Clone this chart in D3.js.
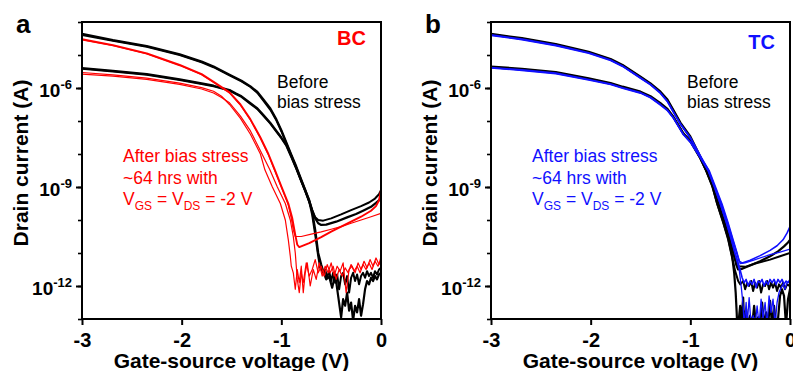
<!DOCTYPE html>
<html>
<head>
<meta charset="utf-8">
<script src="https://cdn.jsdelivr.net/npm/d3@7"></script>
<style>
  body { margin: 0; background: #fff; }
  svg { display: block; font-family: "Liberation Sans", Arial, sans-serif; }
</style>
</head>
<body>
<div id="chart"></div>
<script>
// ---- data: [gate-source voltage (V), log10 of drain current (A)] ----
const xTicks = [-3, -2, -1, 0];
const yMajorExp = [-12, -9, -6];
const yMinorExp = [-13, -12, -11, -10, -9, -8, -7, -6, -5, -4];

// panel a (BC), before stress
const bcBlkHiF = [[-3,-4.36],[-2.69,-4.55],[-2.35,-4.73],[-2.02,-4.98],[-1.8,-5.2],[-1.68,-5.35],[-1.52,-5.6],[-1.4,-5.78],[-1.31,-5.95],[-1.24,-6.12],[-1.18,-6.35],[-1.11,-6.62],[-1.05,-6.95],[-1,-7.28],[-0.95,-7.65],[-0.9,-8.02],[-0.85,-8.38],[-0.8,-8.78],[-0.76,-9.09],[-0.72,-9.42],[-0.69,-9.7],[-0.66,-9.95],[-0.63,-10.1],[-0.6,-10.15],[-0.55,-10.14],[-0.45,-10.05],[-0.34,-9.92],[-0.25,-9.82],[-0.18,-9.72],[-0.1,-9.6],[-0.05,-9.48],[0,-9.35]];
const bcBlkHiR = [[-3,-4.39],[-2.69,-4.57],[-2.35,-4.75],[-2.02,-5],[-1.8,-5.22],[-1.68,-5.37],[-1.52,-5.62],[-1.4,-5.8],[-1.31,-5.97],[-1.24,-6.15],[-1.18,-6.38],[-1.11,-6.66],[-1.05,-6.98],[-1,-7.31],[-0.95,-7.68],[-0.9,-8.05],[-0.85,-8.42],[-0.8,-8.82],[-0.76,-9.12],[-0.72,-9.45],[-0.69,-9.72],[-0.66,-9.92],[-0.63,-10],[-0.58,-10.02],[-0.5,-9.95],[-0.4,-9.83],[-0.3,-9.7],[-0.2,-9.58],[-0.12,-9.47],[-0.06,-9.35],[-0.02,-9.22],[0,-9.1]];
const bcBlkLoF = [[-3,-5.4],[-2.69,-5.48],[-2.35,-5.58],[-2.02,-5.74],[-1.8,-5.86],[-1.68,-5.93],[-1.52,-6.06],[-1.46,-6.16],[-1.4,-6.25],[-1.31,-6.46],[-1.24,-6.62],[-1.18,-6.82],[-1.11,-7.06],[-1.05,-7.3],[-1,-7.5],[-0.95,-7.72],[-0.9,-8.06],[-0.85,-8.42],[-0.8,-8.8],[-0.76,-9.1],[-0.72,-9.4],[-0.69,-9.75],[-0.66,-10.3],[-0.63,-11],[-0.6,-11.35],[-0.58,-11.55],[-0.55,-11.8],[-0.52,-11.72],[-0.49,-12.05],[-0.46,-11.65],[-0.43,-12.3],[-0.4,-12.95],[-0.38,-12.4],[-0.36,-12.6],[-0.34,-12.2],[-0.32,-12.75],[-0.3,-12.5],[-0.28,-13.05],[-0.26,-12.6],[-0.24,-12.8],[-0.22,-12.4],[-0.2,-12.9],[-0.18,-12.55],[-0.16,-12.1],[-0.14,-11.85],[-0.12,-11.95],[-0.1,-11.75],[-0.08,-11.85],[-0.06,-11.7],[-0.04,-11.8],[-0.02,-11.65],[0,-11.6]];
const bcBlkLoR = [[-3,-5.42],[-2.69,-5.5],[-2.35,-5.6],[-2.02,-5.76],[-1.8,-5.88],[-1.68,-5.95],[-1.52,-6.08],[-1.46,-6.18],[-1.4,-6.27],[-1.31,-6.48],[-1.24,-6.64],[-1.18,-6.84],[-1.11,-7.08],[-1.05,-7.32],[-1,-7.52],[-0.95,-7.75],[-0.9,-8.09],[-0.85,-8.45],[-0.8,-8.83],[-0.76,-9.13],[-0.72,-9.45],[-0.69,-9.85],[-0.66,-10.45],[-0.63,-11.1],[-0.61,-11.45],[-0.58,-11.6],[-0.56,-11.5],[-0.54,-11.75],[-0.52,-11.55],[-0.5,-11.85],[-0.48,-11.6],[-0.46,-11.9],[-0.44,-11.65],[-0.42,-12.1],[-0.4,-11.7],[-0.38,-11.6],[-0.36,-11.95],[-0.34,-11.7],[-0.32,-12.2],[-0.3,-11.75],[-0.28,-11.6],[-0.26,-11.85],[-0.24,-11.65],[-0.22,-11.95],[-0.2,-11.7],[-0.18,-11.6],[-0.16,-11.75],[-0.14,-11.55],[-0.12,-11.7],[-0.1,-11.6],[-0.08,-11.75],[-0.06,-11.55],[-0.04,-11.65],[-0.02,-11.5],[0,-11.45]];

// panel a (BC), after stress
const bcRedHiF = [[-3,-4.52],[-2.69,-4.7],[-2.35,-4.95],[-2.02,-5.3],[-1.8,-5.58],[-1.68,-5.81],[-1.52,-6.13],[-1.41,-6.5],[-1.31,-6.95],[-1.21,-7.5],[-1.13,-8],[-1.065,-8.48],[-1,-8.98],[-0.93,-9.5],[-0.89,-9.95],[-0.86,-10.45],[-0.84,-10.75],[-0.82,-10.82],[-0.72,-10.7],[-0.6,-10.52],[-0.5,-10.35],[-0.4,-10.2],[-0.3,-10.05],[-0.2,-9.9],[-0.1,-9.72],[-0.05,-9.58],[-0.02,-9.4],[0,-9.1]];
const bcRedHiR = [[-3,-4.54],[-2.69,-4.72],[-2.35,-4.97],[-2.02,-5.32],[-1.8,-5.6],[-1.68,-5.83],[-1.52,-6.15],[-1.41,-6.52],[-1.31,-6.97],[-1.21,-7.52],[-1.13,-8.02],[-1.07,-8.48],[-1,-9],[-0.93,-9.55],[-0.9,-9.95],[-0.88,-10.3],[-0.86,-10.5],[-0.8,-10.5],[-0.7,-10.43],[-0.6,-10.36],[-0.5,-10.28],[-0.4,-10.2],[-0.3,-10.1],[-0.2,-10],[-0.1,-9.9],[0,-9.8]];
const bcRedLoF = [[-3,-5.53],[-2.69,-5.6],[-2.35,-5.7],[-2.02,-5.85],[-1.8,-5.99],[-1.68,-6.1],[-1.6,-6.25],[-1.52,-6.5],[-1.41,-6.92],[-1.31,-7.4],[-1.21,-8],[-1.165,-8.48],[-1.09,-9],[-1.01,-9.5],[-0.96,-10],[-0.93,-10.6],[-0.91,-11.1],[-0.9,-11.4],[-0.88,-11.6],[-0.86,-12.1],[-0.84,-11.5],[-0.82,-11.9],[-0.8,-11.4],[-0.78,-12.2],[-0.76,-11.6],[-0.74,-11.3],[-0.71,-12],[-0.68,-11.5],[-0.65,-11.8],[-0.62,-11.3],[-0.59,-11.7],[-0.56,-11.4],[-0.53,-11.6],[-0.5,-11.3],[-0.47,-11.7],[-0.44,-11.4],[-0.41,-11.55],[-0.38,-11.3],[-0.35,-12.2],[-0.32,-11.5],[-0.29,-11.4],[-0.26,-11.6],[-0.23,-11.3],[-0.2,-11.5],[-0.17,-11.25],[-0.14,-11.45],[-0.11,-11.2],[-0.08,-11.4],[-0.05,-11.15],[-0.02,-11.35],[0,-11.1]];
const bcRedLoR = [[-3,-5.58],[-2.69,-5.64],[-2.35,-5.74],[-2.02,-5.89],[-1.8,-6.03],[-1.68,-6.15],[-1.6,-6.29],[-1.52,-6.45],[-1.41,-6.85],[-1.31,-7.3],[-1.21,-7.9],[-1.115,-8.48],[-1.04,-9],[-0.96,-9.5],[-0.91,-10],[-0.88,-10.5],[-0.86,-11],[-0.85,-11.4],[-0.84,-11.8],[-0.82,-12.2],[-0.8,-11.6],[-0.78,-11.9],[-0.75,-11.3],[-0.72,-11.7],[-0.69,-11.5],[-0.66,-11.2],[-0.63,-11.6],[-0.6,-11.4],[-0.57,-11.7],[-0.54,-11.35],[-0.51,-11.6],[-0.48,-11.4],[-0.45,-11.8],[-0.42,-11.5],[-0.39,-11.7],[-0.36,-11.45],[-0.33,-11.6],[-0.3,-11.35],[-0.27,-11.55],[-0.24,-11.4],[-0.21,-11.6],[-0.18,-11.35],[-0.15,-11.5],[-0.12,-11.3],[-0.09,-11.5],[-0.06,-11.25],[-0.03,-11.4],[0,-11.2]];

// panel b (TC), before stress
const tcBlkHiF = [[-3,-4.36],[-2.69,-4.49],[-2.35,-4.67],[-2.02,-4.9],[-1.8,-5.12],[-1.68,-5.3],[-1.5,-5.66],[-1.4,-5.86],[-1.3,-6.11],[-1.23,-6.35],[-1.17,-6.67],[-1.1,-7.05],[-1,-7.47],[-0.9,-8.08],[-0.835,-8.48],[-0.78,-8.9],[-0.72,-9.45],[-0.66,-10],[-0.61,-10.5],[-0.57,-10.95],[-0.54,-11.35],[-0.52,-11.5],[-0.48,-11.48],[-0.4,-11.38],[-0.3,-11.25],[-0.2,-11.1],[-0.12,-10.95],[-0.06,-10.8],[-0.02,-10.68],[0,-10.6]];
const tcBlkHiR = [[-3,-4.38],[-2.69,-4.51],[-2.35,-4.69],[-2.02,-4.92],[-1.8,-5.14],[-1.68,-5.32],[-1.5,-5.68],[-1.4,-5.88],[-1.3,-6.13],[-1.23,-6.37],[-1.17,-6.69],[-1.1,-7.07],[-1,-7.5],[-0.9,-8.1],[-0.84,-8.5],[-0.78,-8.93],[-0.72,-9.48],[-0.66,-10.03],[-0.61,-10.55],[-0.57,-11],[-0.55,-11.2],[-0.52,-11.4],[-0.45,-11.42],[-0.35,-11.32],[-0.2,-11.2],[-0.1,-11.1],[0,-11]];
const tcBlkLoF = [[-3,-5.35],[-2.69,-5.42],[-2.35,-5.52],[-2.02,-5.71],[-1.8,-5.85],[-1.68,-5.96],[-1.5,-6.11],[-1.4,-6.25],[-1.3,-6.46],[-1.23,-6.63],[-1.17,-6.87],[-1.07,-7.37],[-1,-7.6],[-0.9,-8.12],[-0.84,-8.5],[-0.78,-8.95],[-0.73,-9.5],[-0.67,-10.05],[-0.62,-10.55],[-0.58,-11.1],[-0.56,-11.6],[-0.545,-12.2],[-0.535,-12.8],[-0.53,-13.2],[-0.52,-13.2],[-0.5,-12.6],[-0.49,-13.2],[-0.47,-12.35],[-0.46,-13.2],[-0.44,-12.7],[-0.42,-13.2],[-0.4,-12.9],[-0.38,-13.2],[-0.36,-12.6],[-0.34,-13.2],[-0.32,-12.95],[-0.3,-13.2],[-0.28,-12.5],[-0.26,-13.2],[-0.24,-12.8],[-0.22,-13.2],[-0.2,-12.45],[-0.18,-13.2],[-0.16,-12.6],[-0.14,-13.2],[-0.12,-13],[-0.1,-12.3],[-0.08,-12.1],[-0.06,-12.3],[-0.04,-13.2],[-0.02,-12.4],[0,-12.1]];
const tcBlkLoR = [[-3,-5.37],[-2.69,-5.44],[-2.35,-5.54],[-2.02,-5.73],[-1.8,-5.87],[-1.68,-5.98],[-1.5,-6.13],[-1.4,-6.27],[-1.3,-6.48],[-1.23,-6.65],[-1.17,-6.89],[-1.07,-7.39],[-1,-7.62],[-0.9,-8.14],[-0.84,-8.52],[-0.78,-8.98],[-0.73,-9.52],[-0.67,-10.08],[-0.62,-10.6],[-0.58,-11.15],[-0.55,-11.55],[-0.52,-11.85],[-0.5,-11.95],[-0.47,-11.85],[-0.45,-12.1],[-0.43,-11.9],[-0.41,-12],[-0.39,-11.85],[-0.37,-12.15],[-0.35,-11.9],[-0.33,-12.05],[-0.31,-11.85],[-0.29,-12.2],[-0.27,-11.95],[-0.25,-12],[-0.23,-11.85],[-0.21,-12.1],[-0.19,-11.9],[-0.17,-12.05],[-0.15,-11.9],[-0.13,-12.15],[-0.11,-11.95],[-0.09,-12.05],[-0.07,-11.9],[-0.05,-12.1],[-0.03,-11.95],[0,-12]];

// panel b (TC), after stress
const tcBluHiF = [[-3,-4.39],[-2.69,-4.52],[-2.35,-4.7],[-2.02,-4.93],[-1.8,-5.15],[-1.68,-5.33],[-1.5,-5.69],[-1.4,-5.89],[-1.3,-6.15],[-1.23,-6.4],[-1.17,-6.72],[-1.1,-7.08],[-1,-7.5],[-0.9,-8.05],[-0.82,-8.48],[-0.76,-8.95],[-0.69,-9.5],[-0.63,-10.05],[-0.58,-10.55],[-0.54,-10.95],[-0.51,-11.25],[-0.48,-11.3],[-0.4,-11.22],[-0.3,-11.08],[-0.2,-10.92],[-0.13,-10.78],[-0.07,-10.6],[-0.03,-10.4],[0,-10.2]];
const tcBluHiR = [[-3,-4.41],[-2.69,-4.54],[-2.35,-4.72],[-2.02,-4.95],[-1.8,-5.17],[-1.68,-5.35],[-1.5,-5.71],[-1.4,-5.91],[-1.3,-6.17],[-1.23,-6.42],[-1.17,-6.74],[-1.1,-7.1],[-1,-7.52],[-0.9,-8.07],[-0.81,-8.5],[-0.75,-8.97],[-0.68,-9.52],[-0.62,-10.08],[-0.57,-10.6],[-0.53,-11],[-0.5,-11.32],[-0.45,-11.3],[-0.35,-11.2],[-0.2,-11.05],[-0.1,-10.97],[0,-10.88]];
const tcBluLoF = [[-3,-5.38],[-2.69,-5.45],[-2.35,-5.55],[-2.02,-5.74],[-1.8,-5.88],[-1.68,-5.99],[-1.5,-6.14],[-1.4,-6.28],[-1.3,-6.5],[-1.23,-6.67],[-1.17,-6.9],[-1.07,-7.4],[-1,-7.63],[-0.9,-8.1],[-0.82,-8.5],[-0.76,-8.97],[-0.7,-9.5],[-0.64,-10.05],[-0.59,-10.55],[-0.55,-11],[-0.51,-11.4],[-0.48,-11.75],[-0.46,-11.9],[-0.44,-11.8],[-0.42,-12],[-0.4,-11.85],[-0.38,-11.95],[-0.36,-11.8],[-0.34,-12.05],[-0.32,-11.85],[-0.3,-11.9],[-0.28,-11.8],[-0.26,-12],[-0.24,-11.85],[-0.22,-11.95],[-0.2,-11.8],[-0.18,-11.9],[-0.16,-11.8],[-0.14,-11.95],[-0.12,-11.8],[-0.1,-11.9],[-0.08,-11.8],[-0.06,-11.95],[-0.04,-11.85],[-0.02,-11.9],[0,-11.8]];
const tcBluLoR = [[-3,-5.4],[-2.69,-5.47],[-2.35,-5.57],[-2.02,-5.76],[-1.8,-5.9],[-1.68,-6.01],[-1.5,-6.16],[-1.4,-6.3],[-1.3,-6.52],[-1.23,-6.69],[-1.17,-6.92],[-1.07,-7.42],[-1,-7.65],[-0.9,-8.12],[-0.82,-8.52],[-0.76,-9],[-0.7,-9.52],[-0.64,-10.08],[-0.59,-10.6],[-0.55,-11.05],[-0.51,-11.5],[-0.49,-12],[-0.47,-12.6],[-0.46,-13.2],[-0.44,-12.5],[-0.43,-13.2],[-0.41,-12.35],[-0.39,-13.2],[-0.37,-12.9],[-0.35,-13.2],[-0.33,-12.6],[-0.31,-13.2],[-0.29,-12.4],[-0.27,-13],[-0.25,-12.5],[-0.23,-13.2],[-0.21,-12.3],[-0.19,-12.8],[-0.17,-12.4],[-0.15,-13.2],[-0.13,-12.5],[-0.11,-12.2],[-0.09,-12.05],[-0.07,-11.95],[-0.05,-12.1],[-0.03,-11.9],[0,-11.85]];

const RED = '#ff0000', BLUE = '#1010ff';

const panels = [
  {left: 82, letter: 'a', tag: 'BC', tagColor: RED, tagY: 45,
   noteColor: RED, beforeX: 277, afterX: 123,
   curves: [
     {data: bcBlkHiF, color: '#000', w: 2.2}, {data: bcBlkHiR, color: '#000', w: 2},
     {data: bcBlkLoF, color: '#000', w: 2.2}, {data: bcBlkLoR, color: '#000', w: 2},
     {data: bcRedHiF, color: RED, w: 1.9}, {data: bcRedHiR, color: RED, w: 1.2},
     {data: bcRedLoF, color: RED, w: 1.2}, {data: bcRedLoR, color: RED, w: 1.2}
   ]},
  {left: 491, letter: 'b', tag: 'TC', tagColor: BLUE, tagY: 49,
   noteColor: BLUE, beforeX: 687, afterX: 532,
   curves: [
     {data: tcBlkHiF, color: '#000', w: 2.2}, {data: tcBlkHiR, color: '#000', w: 2},
     {data: tcBlkLoF, color: '#000', w: 2.2}, {data: tcBlkLoR, color: '#000', w: 2},
     {data: tcBluHiF, color: BLUE, w: 1.6}, {data: tcBluHiR, color: BLUE, w: 1.3},
     {data: tcBluLoF, color: BLUE, w: 1.6}, {data: tcBluLoR, color: BLUE, w: 1.3}
   ]}
];

const W = 793, H = 371;
const plotTop = 22, plotBottom = 319, plotW = 299;

const svg = d3.select('#chart').append('svg')
    .attr('width', W).attr('height', H);

panels.forEach((p, pi) => {
  const x = d3.scaleLinear().domain([-3, 0]).range([p.left, p.left + plotW]);
  const y = d3.scaleLog().domain([1e-13, 1e-4]).range([plotBottom, plotTop]);

  svg.append('defs').append('clipPath').attr('id', 'clip' + pi)
    .append('rect').attr('x', p.left).attr('y', plotTop)
    .attr('width', plotW).attr('height', plotBottom - plotTop);

  const line = d3.line()
      .x(d => x(d[0]))
      .y(d => y(Math.pow(10, d[1])));

  svg.append('g').attr('clip-path', `url(#clip${pi})`)
    .selectAll('path')
    .data(p.curves)
    .enter()
    .append('path')
    .attr('d', d => line(d.data))
    .attr('fill', 'none')
    .attr('stroke', d => d.color)
    .attr('stroke-width', d => d.w)
    .attr('stroke-linejoin', 'round');

  // x axis
  const gx = svg.append('g').attr('transform', `translate(0,${plotBottom})`)
    .call(d3.axisBottom(x).tickValues(xTicks).tickSize(6).tickSizeOuter(0)
      .tickPadding(8).tickFormat(d => String(d)));
  gx.select('.domain').remove();
  gx.selectAll('line').attr('stroke-width', 2);
  gx.selectAll('text').attr('font-size', 20).attr('font-weight', 'bold')
    .attr('font-family', '"Liberation Sans", Arial, sans-serif').attr('fill', '#000');

  // y axis: minor decade ticks
  const gyMinor = svg.append('g').attr('transform', `translate(${p.left},0)`)
    .call(d3.axisLeft(y).tickValues(yMinorExp.map(e => Math.pow(10, e)))
      .tickSize(4).tickSizeOuter(0).tickFormat(''));
  gyMinor.select('.domain').remove();
  gyMinor.selectAll('line').attr('stroke-width', 1.6);

  // y axis: labelled ticks
  const gy = svg.append('g').attr('transform', `translate(${p.left},0)`)
    .call(d3.axisLeft(y).tickValues(yMajorExp.map(e => Math.pow(10, e)))
      .tickSize(6).tickSizeOuter(0).tickPadding(4).tickFormat(''));
  gy.select('.domain').remove();
  gy.selectAll('line').attr('stroke-width', 2);
  gy.selectAll('.tick text')
    .attr('font-size', 19).attr('font-weight', 'bold').attr('dy', '0.45em')
    .attr('font-family', '"Liberation Sans", Arial, sans-serif').attr('fill', '#000')
    .each(function(d) {
      const t = d3.select(this);
      t.text(null);
      t.append('tspan').text('10');
      t.append('tspan').attr('font-size', 13).attr('dy', -8.5)
        .text(String(Math.round(Math.log10(d))));
    });

  // frame
  svg.append('rect')
    .attr('x', p.left).attr('y', plotTop)
    .attr('width', plotW).attr('height', plotBottom - plotTop)
    .attr('fill', 'none').attr('stroke', '#000').attr('stroke-width', 2);

  // axis titles
  svg.append('text')
    .attr('transform', `translate(${p.left - 54},163) rotate(-90)`)
    .attr('text-anchor', 'middle').attr('font-size', 21).attr('font-weight', 'bold')
    .text('Drain current (A)');
  svg.append('text')
    .attr('x', p.left + plotW / 2).attr('y', 368)
    .attr('text-anchor', 'middle').attr('font-size', 21).attr('font-weight', 'bold')
    .text('Gate-source voltage (V)');

  // panel letter and tag
  svg.append('text').attr('x', p.left - 66).attr('y', 33)
    .attr('font-size', 26).attr('font-weight', 'bold').text(p.letter);
  svg.append('text').attr('x', p.left + 284).attr('y', p.tagY)
    .attr('text-anchor', 'end').attr('font-size', 20).attr('font-weight', 'bold')
    .attr('fill', p.tagColor).text(p.tag);

  // notes
  const before = svg.append('text').attr('font-size', 17.5).attr('fill', '#000');
  before.append('tspan').attr('x', p.beforeX).attr('y', 88).text('Before');
  before.append('tspan').attr('x', p.beforeX).attr('y', 108).text('bias stress');

  const after = svg.append('text').attr('font-size', 17.5).attr('fill', p.noteColor);
  after.append('tspan').attr('x', p.afterX).attr('y', 162).text('After bias stress');
  after.append('tspan').attr('x', p.afterX).attr('y', 184).text('~64 hrs with');
  const v = svg.append('text').attr('x', p.afterX).attr('y', 205)
    .attr('font-size', 17.5).attr('fill', p.noteColor);
  v.append('tspan').text('V');
  v.append('tspan').attr('font-size', 12).attr('dy', 5).text('GS');
  v.append('tspan').attr('dy', -5).text(' = V');
  v.append('tspan').attr('font-size', 12).attr('dy', 5).text('DS');
  v.append('tspan').attr('dy', -5).text(' = -2 V');
});
</script>
</body>
</html>
